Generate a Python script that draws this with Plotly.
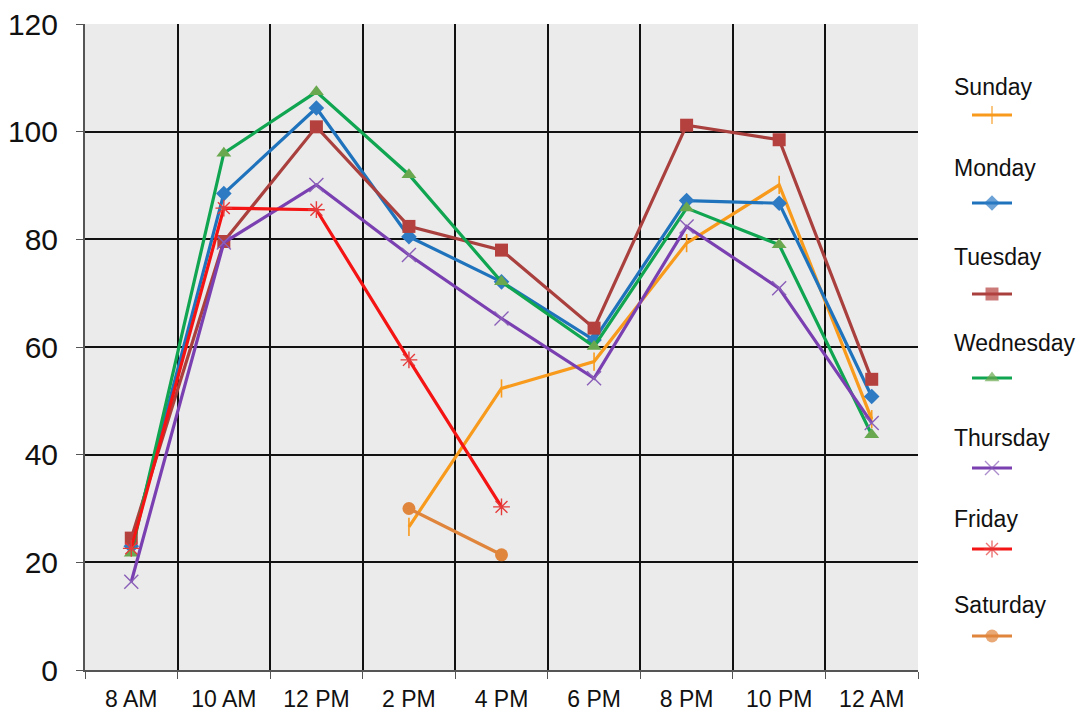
import plotly.graph_objects as go

categories = ["8 AM", "10 AM", "12 PM", "2 PM", "4 PM", "6 PM", "8 PM", "10 PM", "12 AM"]

sunday = [None, None, None, 26.6, 52.3, 57.3, 79.3, 90.1, 46.6]
monday = [23.0, 88.5, 104.4, 80.5, 72.1, 61.3, 87.2, 86.7, 50.8]
tuesday = [24.5, 79.6, 100.9, 82.4, 78.0, 63.5, 101.2, 98.5, 54.0]
wednesday = [21.7, 96.0, 107.4, 92.0, 72.1, 60.1, 85.8, 79.0, 43.7]
thursday = [16.4, 79.4, 90.1, 77.1, 65.3, 54.2, 82.4, 70.9, 45.9]
friday = [22.6, 85.8, 85.5, 57.6, 30.3, None, None, None, None]
saturday = [None, None, None, 30.0, 21.4, None, None, None, None]

series_names = ["Sunday", "Monday", "Tuesday", "Wednesday", "Thursday", "Friday", "Saturday"]
series_values = [sunday, monday, tuesday, wednesday, thursday, friday, saturday]

styles = {
    "Sunday": dict(color="#F89A1C", symbol="line-ns", size=13, lw=1.6),
    "Monday": dict(color="#1F73BC", symbol="diamond", size=12, lw=0),
    "Tuesday": dict(color="#A9403E", symbol="square", size=13, lw=0),
    "Wednesday": dict(color="#10A550", symbol="triangle-up", size=13, lw=0),
    "Thursday": dict(color="#7A3FB0", symbol="x-thin", size=14, lw=1.4),
    "Friday": dict(color="#F41414", symbol="asterisk", size=14, lw=1.4),
    "Saturday": dict(color="#E0853C", symbol="circle", size=13, lw=0),
}
marker_colors = {
    "Sunday": "#F89A1C", "Monday": "#2E7BC4", "Tuesday": "#B5413E",
    "Wednesday": "#6AA84F", "Thursday": "#8A5FB8", "Friday": "#E53B3B",
    "Saturday": "#E0853C",
}

# legend layout (reference pixel positions inside overlay axis)
legend_text_y = [87, 168, 257, 343, 438, 519, 605]
legend_line_y = [115, 203, 294, 378, 468, 549, 636]

fig = go.Figure()

for name, vals in zip(series_names, series_values):
    st = styles[name]
    mc = marker_colors[name]
    fig.add_trace(go.Scatter(
        x=categories, y=vals, name=name, mode="lines+markers",
        line=dict(color=st["color"], width=3.2),
        marker=dict(symbol=st["symbol"], size=st["size"], color=mc,
                    line=dict(color=mc, width=st["lw"])),
        connectgaps=False, showlegend=False,
        xaxis="x", yaxis="y",
    ))

# custom legend: text above, sample line below
for i, name in enumerate(series_names):
    st = styles[name]
    mc = marker_colors[name]
    ly = legend_line_y[i]
    fig.add_trace(go.Scatter(
        x=[972, 992, 1012], y=[ly, ly, ly], mode="lines+markers",
        line=dict(color=st["color"], width=3.2),
        marker=dict(symbol=st["symbol"], size=[0, st["size"], 0], color=mc,
                    line=dict(color=mc, width=st["lw"])),
        showlegend=False, hoverinfo="skip", xaxis="x2", yaxis="y2",
    ))
    fig.add_annotation(
        x=952, y=legend_text_y[i], xref="x2", yref="y2", text=name,
        showarrow=False, xanchor="left", yanchor="middle",
        font=dict(family="Liberation Sans, Arial, sans-serif", size=23, color="#111111"),
    )

# page body has an 8px margin; size the figure to fit the window
W, H = 1073, 703
ml, mr, mt, mb = 77, 10, 16, 41
pw = W - ml - mr
main_right = (910 - ml) / pw
leg_left = (932 - ml) / pw

fig.update_layout(
    width=W, height=H,
    margin=dict(l=ml, r=mr, t=mt, b=mb, autoexpand=False),
    paper_bgcolor="white",
    plot_bgcolor="rgba(0,0,0,0)",
    showlegend=False,
    shapes=[dict(type="rect", xref="x domain", yref="y domain", x0=0, x1=1, y0=0, y1=1,
                 fillcolor="#EBEBEB", line=dict(width=0), layer="below")],
    xaxis=dict(
        type="category", domain=[0, main_right], range=[-0.5, 8.5],
        tickson="boundaries", showgrid=True, gridcolor="#111111", gridwidth=1.6,
        ticks="outside", ticklen=7, tickcolor="#555555", ticklabelstandoff=7,
        showline=True, linecolor="#555555", linewidth=2, mirror=False,
        tickfont=dict(family="Liberation Sans, Arial, sans-serif", size=23, color="#111111"),
        fixedrange=True, zeroline=False, automargin=False, ticklabeloverflow="allow",
    ),
    yaxis=dict(
        range=[0, 120], dtick=20, tick0=0,
        showgrid=True, gridcolor="#111111", gridwidth=1.6,
        ticks="outside", ticklen=7, tickcolor="#555555", ticklabelstandoff=12,
        showline=True, linecolor="#555555", linewidth=2,
        tickfont=dict(family="Liberation Sans, Arial, sans-serif", size=30, color="#111111"),
        zeroline=False, fixedrange=True, automargin=False, ticklabeloverflow="allow",
    ),
    xaxis2=dict(domain=[leg_left, 1], range=[940, 1071], visible=False, fixedrange=True),
    yaxis2=dict(domain=[0, 1], range=[670, 24], visible=False, fixedrange=True, anchor="x2"),
)

fig.write_html("out.html")
